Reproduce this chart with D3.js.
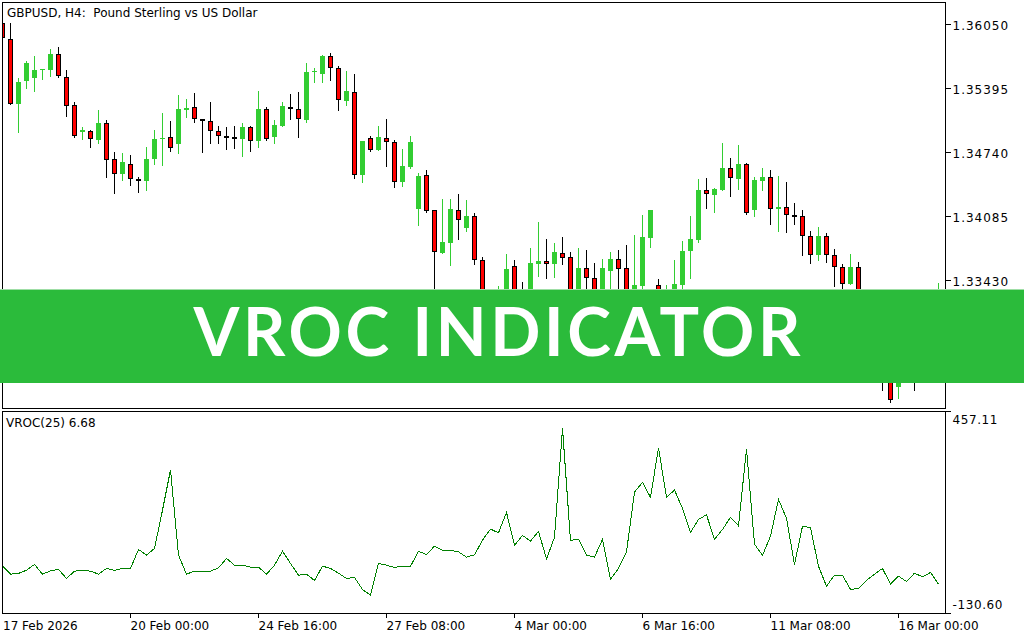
<!DOCTYPE html>
<html>
<head>
<meta charset="utf-8">
<script src="https://cdn.jsdelivr.net/npm/d3@7"></script>
<style>
  html, body { margin: 0; padding: 0; background: #fff; }
  svg { display: block; }
  text { font-family: "DejaVu Sans", sans-serif; fill: #000; }
</style>
</head>
<body>
<svg id="chart" width="1024" height="640"></svg>
<script>
// ---------------------------------------------------------------------------
// Data: GBPUSD H4 bars (index 0 = 17 Feb 08:00) and VROC(25)
// ---------------------------------------------------------------------------
const open = [
  1.36067,1.35897,1.35238,1.35467,1.35504,1.35580,1.35586,1.35743,1.35508,1.35221,
  1.34951,1.34958,1.34869,1.35037,1.34669,1.34515,1.34621,1.34467,1.34450,1.34675,
  1.34876,1.34897,1.34828,1.35176,1.35201,1.35081,1.35058,1.34958,1.34904,1.34900,
  1.34880,1.34999,1.34853,1.35184,1.34894,1.35013,1.35207,1.35180,1.35074,1.35562,
  1.35545,1.35723,1.35600,1.35268,1.35354,1.34511,1.34884,1.34767,1.34884,1.34843,
  1.34440,1.34593,1.34160,1.34505,1.34147,1.33713,1.33815,1.34147,1.33969,1.34085,
  1.33635,1.33229,1.33045,1.33270,1.33574,1.33270,1.33208,1.33600,1.33628,1.33600,
  1.33710,1.33669,1.33290,1.33556,1.33454,1.33229,1.33526,1.33648,1.33556,1.33178,
  1.33375,1.33866,1.33379,1.33106,1.33229,1.33382,1.33730,1.33846,1.34352,1.34306,
  1.34358,1.34577,1.34470,1.34618,1.34153,1.34450,1.34485,1.34157,1.34178,1.34096,
  1.34085,1.33881,1.33686,1.33881,1.33686,1.33563,1.33390,1.33563,1.33106,1.32963,
  1.32768,1.32564,1.32338,1.32594,1.32768,1.32615,1.32922,1.33178
];
const high = [
  1.36094,1.36061,1.35504,1.35678,1.35726,1.35595,1.35798,1.35821,1.35583,1.35258,
  1.34999,1.34969,1.35173,1.35071,1.34743,1.34730,1.34713,1.34491,1.34798,1.34969,
  1.35143,1.35064,1.35327,1.35286,1.35347,1.35084,1.35255,1.35010,1.35002,1.35006,
  1.35037,1.35013,1.35371,1.35204,1.35071,1.35255,1.35334,1.35357,1.35654,1.35603,
  1.35736,1.35757,1.35624,1.35572,1.35542,1.34858,1.34904,1.35010,1.35081,1.34866,
  1.34774,1.34907,1.34529,1.34559,1.34150,1.34262,1.34262,1.34314,1.34252,1.34116,
  1.33666,1.33311,1.33372,1.33700,1.33638,1.33413,1.33761,1.34027,1.33853,1.33812,
  1.33874,1.33720,1.33764,1.33741,1.33608,1.33648,1.33720,1.33741,1.33792,1.33894,
  1.34099,1.34153,1.33444,1.33382,1.33638,1.33833,1.34088,1.34467,1.34477,1.34375,
  1.34839,1.34682,1.34815,1.34628,1.34488,1.34580,1.34559,1.34498,1.34436,1.34222,
  1.34153,1.33935,1.33976,1.33915,1.33751,1.33597,1.33700,1.33618,1.33341,1.33024,
  1.32819,1.32615,1.32666,1.32819,1.32871,1.32973,1.33229,1.33406
];
const low = [
  1.35890,1.35235,1.34951,1.35402,1.35371,1.35494,1.35524,1.35515,1.35115,1.34900,
  1.34873,1.34798,1.34833,1.34485,1.34327,1.34457,1.34406,1.34337,1.34355,1.34621,
  1.34607,1.34757,1.34736,1.35099,1.35047,1.34747,1.34839,1.34839,1.34771,1.34784,
  1.34702,1.34757,1.34792,1.34866,1.34839,1.35010,1.35081,1.34900,1.35050,1.35463,
  1.35463,1.35483,1.35176,1.35228,1.34480,1.34440,1.34757,1.34764,1.34603,1.34388,
  1.34399,1.34583,1.33996,1.34129,1.33200,1.33710,1.33587,1.33853,1.33938,1.33600,
  1.33178,1.33004,1.32973,1.33229,1.33198,1.33126,1.33167,1.33478,1.33457,1.33467,
  1.33600,1.33229,1.33249,1.33280,1.33178,1.33188,1.33311,1.33311,1.33198,1.33147,
  1.33311,1.33774,1.33075,1.33045,1.33178,1.33311,1.33457,1.33825,1.34173,1.34133,
  1.34355,1.34296,1.34368,1.34113,1.34092,1.34358,1.34010,1.33938,1.33928,1.34010,
  1.33692,1.33611,1.33641,1.33621,1.33375,1.33311,1.33388,1.33075,1.32871,1.32717,
  1.32308,1.32180,1.32226,1.32533,1.32308,1.32564,1.32871,1.33126
];
const close = [
  1.35907,1.35238,1.35460,1.35654,1.35583,1.35593,1.35746,1.35518,1.35217,1.34904,
  1.34969,1.34873,1.35040,1.34659,1.34518,1.34641,1.34464,1.34450,1.34669,1.34876,
  1.34890,1.34781,1.35184,1.35191,1.35081,1.35058,1.34955,1.34904,1.34903,1.34884,
  1.34999,1.34853,1.35184,1.34873,1.35017,1.35214,1.35180,1.35081,1.35562,1.35572,
  1.35726,1.35600,1.35273,1.35368,1.34505,1.34856,1.34767,1.34897,1.34843,1.34440,
  1.34600,1.34846,1.34498,1.34143,1.33717,1.33822,1.34160,1.34044,1.34088,1.33635,
  1.33229,1.33075,1.33280,1.33546,1.33249,1.33178,1.33608,1.33628,1.33600,1.33720,
  1.33662,1.33280,1.33556,1.33457,1.33229,1.33556,1.33648,1.33549,1.33249,1.33382,
  1.33874,1.34150,1.33126,1.33280,1.33393,1.33730,1.33853,1.34355,1.34311,1.34365,
  1.34577,1.34474,1.34621,1.34116,1.34457,1.34488,1.34157,1.34181,1.34096,1.34088,
  1.33881,1.33686,1.33881,1.33686,1.33563,1.33393,1.33563,1.33126,1.32973,1.32768,
  1.32564,1.32205,1.32615,1.32768,1.32615,1.32922,1.33178,1.33280
];
const vroc = [
  5.8,-18.5,-16.5,-6.8,9.9,-18.5,-8.8,-4.7,-31.1,-9.7,
  -6.8,-9.7,-18.5,-1.8,-7.7,-1.8,-1.8,53.8,37.1,56.7,
  168.8,285.9,37.1,-18.5,-9.7,-9.7,-9.7,-0.1,27.4,7.8,
  7.8,2.0,2.0,-18.5,7.8,48.8,12.8,-21.4,-18.5,-36.9,
  4.9,-1.8,-15.6,-31.1,-28.2,-63.3,-80.0,12.8,7.8,1.1,
  4.9,4.9,47.9,39.2,63.4,51.7,50.9,46.8,31.3,38.0,
  81.0,113.2,102.4,162.1,65.5,94.8,78.1,106.5,26.3,88.9,
  407.9,80.1,83.9,37.1,31.3,83.1,-33.1,-1.8,46.8,221.5,
  249.9,206.0,351.2,206.0,227.3,173.8,103.5,141.6,155.1,83.1,
  112.3,147.4,122.9,347.4,69.3,36.2,92.7,200.1,144.5,9.9,
  122.0,117.0,4.9,-53.6,-21.4,-21.4,-63.3,-60.4,-36.9,-18.5,
  -1.8,-47.8,-24.4,-39.9,-15.6,-26.4,-13.5,-47.8
];

const priceDomain = [1.32123, 1.36278];
const priceTicks = [1.36050, 1.35395, 1.34740, 1.34085, 1.33430, 1.32775];
const vrocDomain = [-130.60, 457.11];
const vrocTickLabels = ["457.11", "-130.60"];
const timeTickIndex = [16, 32, 48, 64, 80, 96, 112];
const timeTickLabels = ["20 Feb 00:00", "24 Feb 16:00", "27 Feb 08:00", "4 Mar 00:00",
                        "6 Mar 16:00", "11 Mar 08:00", "16 Mar 00:00"];
const firstDateLabel = "17 Feb 2026";
const chartTitle = "GBPUSD, H4:  Pound Sterling vs US Dollar";
const vrocTitle = "VROC(25) 6.68";
const bannerText = "VROC INDICATOR";

// ---------------------------------------------------------------------------
// Layout
// ---------------------------------------------------------------------------
const L = 2.5, R = 945.5;
const mainTop = 2.5, mainBottom = 408.5;
const subTop = 411.5, subBottom = 613.5;
const BULL = "#32cd32", BEAR = "#ff0000";

const svg = d3.select("#chart");

const bars = open.map((o, i) => ({ i, o, h: high[i], l: low[i], c: close[i] }));

const x = d3.scaleLinear().domain([0, bars.length - 1]).range([2.5, 2.5 + 8 * (bars.length - 1)]);
const y = d3.scaleLinear().domain(priceDomain).range([408, 2]);
const yv = d3.scaleLinear().domain(vrocDomain).range([612.5, 411.5]);

const defs = svg.append("defs");
defs.append("clipPath").attr("id", "clipMain")
  .append("rect").attr("x", 3).attr("y", 3).attr("width", R - 3).attr("height", mainBottom - 3);
defs.append("clipPath").attr("id", "clipSub")
  .append("rect").attr("x", 3).attr("y", subTop + 0.5).attr("width", R - 3).attr("height", subBottom - subTop - 1);

// --- candles
const gC = svg.append("g").attr("clip-path", "url(#clipMain)").attr("shape-rendering", "crispEdges");
const snap = v => Math.round(v);

gC.selectAll("line.wick")
  .data(bars)
  .join("line")
  .attr("class", "wick")
  .attr("x1", d => x(d.i)).attr("x2", d => x(d.i))
  .attr("y1", d => snap(y(d.h))).attr("y2", d => snap(y(d.l)) + 1)
  .attr("stroke", d => d.c >= d.o ? BULL : "#000")
  .attr("stroke-width", 1);

gC.selectAll("rect.body")
  .data(bars)
  .join("rect")
  .attr("class", "body")
  .each(function (d) {
    const top = snap(y(Math.max(d.o, d.c)));
    const bot = snap(y(Math.min(d.o, d.c)));
    const h = Math.max(1, bot - top);
    const el = d3.select(this);
    if (d.c >= d.o) {
      el.attr("x", x(d.i) - 2.5).attr("y", top).attr("width", 5).attr("height", h)
        .attr("fill", BULL);
    } else {
      el.attr("x", x(d.i) - 2).attr("y", top + 0.5).attr("width", 4).attr("height", Math.max(h - 1, 1))
        .attr("fill", BEAR).attr("stroke", "#000").attr("stroke-width", 1);
    }
  });

// --- VROC line
svg.append("g").attr("clip-path", "url(#clipSub)")
  .append("path")
  .datum(vroc)
  .attr("d", d3.line().x((d, i) => x(i)).y(d => yv(d)))
  .attr("fill", "none")
  .attr("stroke", "#008000")
  .attr("stroke-width", 1)
  .attr("shape-rendering", "crispEdges");

// --- frames
const gF = svg.append("g").attr("shape-rendering", "crispEdges").attr("fill", "none").attr("stroke", "#000");
gF.append("rect").attr("x", L).attr("y", mainTop).attr("width", R - L).attr("height", mainBottom - mainTop);
gF.append("rect").attr("x", L).attr("y", subTop).attr("width", R - L).attr("height", subBottom - subTop);

// --- price axis
const gP = svg.append("g");
priceTicks.forEach(p => {
  const ty = snap(y(p)) + 0.5;
  gP.append("line").attr("x1", R).attr("x2", R + 5).attr("y1", ty).attr("y2", ty)
    .attr("stroke", "#000").attr("shape-rendering", "crispEdges");
  gP.append("text").attr("x", R + 7).attr("y", ty + 5)
    .attr("font-size", 12).attr("letter-spacing", 1).text(p.toFixed(5));
});

// --- VROC axis (max / min of the window)
[subTop, subBottom].forEach((ty, k) => {
  gP.append("line").attr("x1", R).attr("x2", R + 5).attr("y1", ty).attr("y2", ty)
    .attr("stroke", "#000").attr("shape-rendering", "crispEdges");
  gP.append("text").attr("x", R + 7).attr("y", k === 0 ? ty + 12 : ty - 5)
    .attr("font-size", 12).attr("letter-spacing", 0.6).text(vrocTickLabels[k]);
});

// --- time axis
const gT = svg.append("g");
timeTickIndex.forEach((idx, k) => {
  const tx = x(idx);
  gT.append("line").attr("x1", tx).attr("x2", tx).attr("y1", subBottom).attr("y2", subBottom + 4)
    .attr("stroke", "#000").attr("shape-rendering", "crispEdges");
  gT.append("text").attr("x", tx).attr("y", 630).attr("font-size", 12).text(timeTickLabels[k]);
});
gT.append("text").attr("x", 3).attr("y", 630).attr("font-size", 12).text(firstDateLabel);

// --- titles
svg.append("text").attr("x", 7).attr("y", 16.5).attr("font-size", 12)
  .style("white-space", "pre").text(chartTitle);
svg.append("text").attr("x", 6).attr("y", 427).attr("font-size", 12).text(vrocTitle);

// --- banner
const gB = svg.append("g");
gB.append("rect").attr("x", 0).attr("y", 289).attr("width", 1024).attr("height", 94).attr("fill", "#2bbb3b");
gB.append("line").attr("x1", 0).attr("x2", 1024).attr("y1", 289.5).attr("y2", 289.5)
  .attr("stroke", "#9fdea6").attr("shape-rendering", "crispEdges");
gB.append("text")
  .attr("x", 497).attr("y", 355.5)
  .attr("text-anchor", "middle")
  .attr("textLength", 607).attr("lengthAdjust", "spacing")
  .style("font-family", "Lato, 'Open Sans', sans-serif")
  .style("font-weight", 700)
  .style("font-size", "66px")
  .style("fill", "#fff")
  .text(bannerText);
</script>
</body>
</html>
